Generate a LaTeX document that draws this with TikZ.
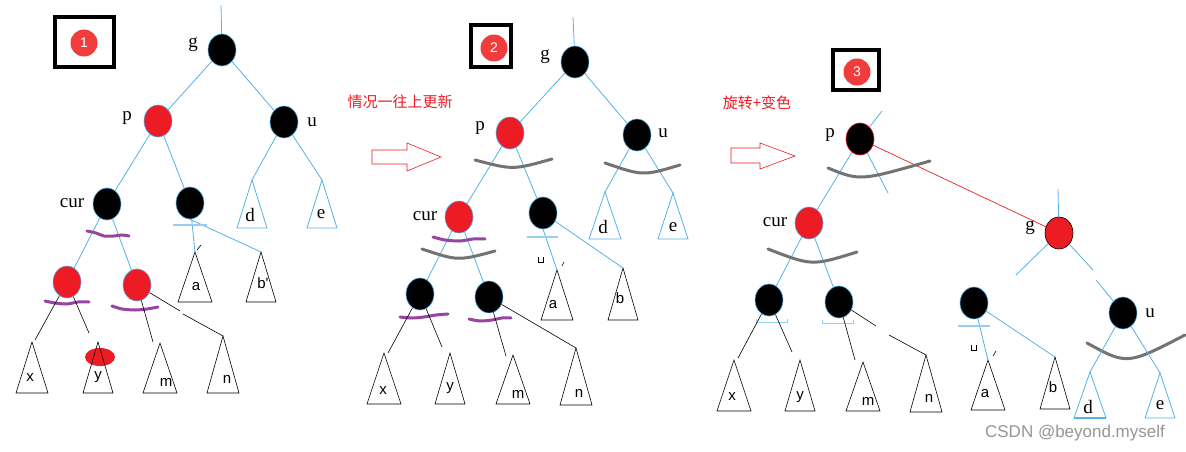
\documentclass[tikz,border=0pt]{standalone}
\usepackage{fontspec}
\setmainfont{Liberation Serif}
\newfontfamily\lsans{Liberation Sans}
\newfontfamily\cjk{Noto Sans CJK SC}
\usetikzlibrary{shapes.geometric}
\definecolor{nred}{RGB}{237,28,36}
\definecolor{lblue}{RGB}{86,178,230}
\definecolor{pale}{RGB}{150,205,240}
\definecolor{purp}{RGB}{150,70,160}
\definecolor{arcg}{RGB}{115,115,115}
\definecolor{badge}{RGB}{240,60,60}
\definecolor{wm}{RGB}{150,150,150}
\tikzset{
 rb/.style={ellipse, minimum width=28, minimum height=32, inner sep=0, draw=lblue, line width=0.6},
 rnode/.style={rb, fill=nred},
 bnode/.style={rb, fill=black},
 edge/.style={lblue, line width=0.8},
 thinb/.style={black, line width=0.6},
 serlab/.style={inner sep=0, font=\fontsize{19}{19}\selectfont},
 tlab/.style={inner sep=0, font=\lsans\fontsize{15}{15}\selectfont},
 bar/.style={pale, line width=2},
 brk/.style={pale, line width=1},
 wave/.style={purp, line width=3, line cap=round},
 garc/.style={arcg, line width=3, line cap=round},
 frame/.style={line width=4},
 badgec/.style={circle, fill=badge, minimum size=27, inner sep=0, text=white, font=\lsans\fontsize{14}{14}\selectfont},
 harrow/.style={nred, line width=0.6},
 cn/.style={text=nred, font=\cjk\fontsize{15}{15}\selectfont, inner sep=0},
}
% name, apex x, apex y, base y, half width, label x, label y, text
\newcommand\Tri[8]{%
 \draw[thinb] (#2,#3) coordinate (#1) -- (#2-#5,#4) -- (#2+#5,#4) -- cycle;
 \node[tlab] (#1l) at (#6,#7) {#8};}
\newcommand\BTri[8]{%
 \draw[edge] (#2,#3) coordinate (#1) -- (#2-#5,#4) -- (#2+#5,#4) -- cycle;
 \node[serlab] (#1l) at (#6,#7) {#8};}
\begin{document}
\begin{tikzpicture}[x=1pt,y=-1pt]
\useasboundingbox (0,0) rectangle (1186,452);
\fill[white] (0,0) rectangle (1186,452);

% ================= Panel 1 =================
\draw[frame] (55,17) rectangle (114,67);
\node[badgec] (bd1) at (84,43) {1};
\node[bnode] (g1) at (222,50) {};
\node[serlab] (g1l) at (193,45) {g};
\coordinate (g1t) at (221,5);
\draw[edge] (g1t) -- (g1);
\node[rnode] (p1) at (158,121) {};
\node[serlab] (p1l) at (127,118) {p};
\node[bnode] (u1) at (284,122) {};
\node[serlab] (u1l) at (312,122) {u};
\node[bnode] (c1) at (107,204) {};
\node[serlab] (c1l) at (72,203) {cur};
\node[bnode] (s1) at (190,203) {};
\BTri{d1}{252}{180}{228}{15}{250}{215}{d}
\BTri{e1}{322}{180}{228}{15}{321}{214}{e}
\draw[edge] (g1) -- (p1) (g1) -- (u1) (p1) -- (c1) (p1) -- (s1) (u1) -- (d1) (u1) -- (e1);
\node[rnode] (r1) at (67,282) {};
\node[rnode] (r2) at (137,285) {};
\draw[edge] (c1) -- (r1) (c1) -- (r2);
\draw[wave] plot[smooth] coordinates {(87,231) (96,233) (104,236) (114,236) (122,235) (129,236)};
\draw[wave] plot[smooth] coordinates {(45,301) (55,303) (67,304) (78,302) (89,302)};
\draw[wave] plot[smooth] coordinates {(112,306) (122,309) (135,310) (147,309) (158,307)};
\Tri{x1}{32}{342}{393}{16}{30}{378}{x}
\fill[nred] (100,357) ellipse [x radius=15, y radius=9];
\Tri{y1}{98}{342}{393}{15}{98}{377}{y}
\Tri{m1}{160}{343}{393}{17}{166}{382}{m}
\Tri{n1}{223}{336}{393}{16}{227}{379}{n}
\Tri{a1}{195}{252}{302}{17}{196}{287}{a}
\Tri{b1}{261}{252}{302}{15}{263}{283}{b'}
\draw[thinb] (r1) -- (35,340) (r1) -- (89,333) (r2) -- (153,342) (r2) -- (180,311);
\draw[thinb] (183,314) -- (n1);
\draw[edge] (s1) -- (a1) (s1.south) -- (b1);
\draw[bar] (173,225) -- (207,225);
\draw[thinb] (197,250) -- (201,245);

% hollow arrow 1
\draw[harrow] (372,150) -- (407,150) -- (407,143) -- (441,157) -- (407,171) -- (407,164) -- (372,164) -- cycle;
\node[cn] (t1) at (400,102) {情况一往上更新};

% ================= Panel 2 =================
\draw[frame] (471,25) rectangle (511,67);
\node[badgec] (bd2) at (494,48) {2};
\node[bnode] (g2) at (575,62) {};
\node[serlab] (g2l) at (545,57) {g};
\coordinate (g2t) at (573,17);
\draw[edge] (g2t) -- (g2);
\node[rnode] (p2) at (510,133) {};
\node[serlab] (p2l) at (480,128) {p};
\node[bnode] (u2) at (637,135) {};
\node[serlab] (u2l) at (663,133) {u};
\node[rnode] (c2) at (459,217) {};
\node[serlab] (c2l) at (425,216) {cur};
\node[bnode] (s2) at (543,213) {};
\BTri{d2}{605}{192}{239}{16}{603}{227}{d}
\BTri{e2}{673}{193}{239}{15}{673}{227}{e}
\draw[edge] (g2) -- (p2) (g2) -- (u2) (p2) -- (c2) (p2) -- (s2) (u2) -- (d2) (u2) -- (e2);
\draw[garc] (475,160) .. controls (513,170) .. (552,159);
\draw[garc] (605,163) .. controls (643,176) .. (680,165);
\node[bnode] (k1) at (420,294) {};
\node[bnode] (k2) at (489,297) {};
\draw[edge] (c2) -- (k1) (c2) -- (k2);
\draw[wave] plot[smooth] coordinates {(433,237) (445,240) (460,241) (473,239) (485,239)};
\draw[garc] (422,249) .. controls (458,261) .. (495,251);
\draw[wave] plot[smooth] coordinates {(400,317) (412,318) (424,317) (436,315) (448,314)};
\draw[wave] plot[smooth] coordinates {(469,319) (480,321) (492,320) (502,318) (511,318)};
\Tri{x2}{384}{353}{404}{17}{383}{391}{x}
\Tri{y2}{450}{353}{404}{15}{450}{388}{y}
\Tri{m2}{513}{355}{404}{17}{518}{394}{m}
\Tri{n2}{576}{348}{405}{16}{579}{393}{n}
\Tri{a2}{557}{270}{320}{16}{553}{305}{a}
\Tri{b2}{623}{268}{320}{15}{620}{298}{b}
\draw[thinb] (k1) -- (388,353) (k1) -- (442,347) (k2) -- (506,356) (k2) -- (n2);
\draw[edge] (s2.south) -- (a2) (s2) -- (b2);
\draw[bar] (527,237) -- (558,237);
\draw[black, line width=0.5] (538,257) -- (538,262) -- (543,262) -- (543,257);
\draw[thinb] (562,266) -- (564,262);

% hollow arrow 2
\draw[harrow] (731,148) -- (760,148) -- (760,143) -- (795,156) -- (760,169) -- (760,163) -- (731,163) -- cycle;
\node[cn] (t2) at (757,103) {旋转+变色};

% ================= Panel 3 =================
\draw[frame] (833,50) rectangle (879,90);
\node[badgec] (bd3) at (857,72) {3};
\node[bnode, draw=nred] (p3) at (860,139) {};
\node[serlab] (p3l) at (830,135) {p};
\coordinate (p3t) at (882,111);
\coordinate (p3r) at (888,193);
\draw[edge] (p3) -- (p3t);
\node[rnode] (c3) at (809,223) {};
\node[serlab] (c3l) at (775,222) {cur};
\node[rnode, draw=black] (g3) at (1059,233) {};
\node[serlab] (g3l) at (1030,228) {g};
\coordinate (g3t) at (1058,189);
\draw[edge] (p3) -- (c3) (p3) -- (p3r) (g3t) -- (g3);
\draw[nred, line width=0.7] (p3) -- (g3);
\draw[garc] (828,168) .. controls (860,181) .. (930,161);
\node[bnode] (q1) at (769,300) {};
\node[bnode] (q2) at (839,302) {};
\draw[edge] (c3) -- (q1) (c3) -- (q2);
\draw[garc] (768,249) .. controls (812,266) .. (857,252);
\draw[brk] (756,319) -- (756,322) -- (787,322) -- (787,319);
\draw[brk] (822,320) -- (822,323) -- (853,323) -- (853,320);
\Tri{x3}{734}{360}{411}{17}{732}{397}{x}
\Tri{y3}{800}{360}{411}{15}{800}{397}{y}
\Tri{m3}{863}{362}{411}{17}{868}{401}{m}
\Tri{n3}{926}{355}{412}{16}{929}{398}{n}
\draw[thinb] (q1) -- (738,358) (q1) -- (792,352) (q2) -- (855,360) (q2) -- (876,326);
\draw[thinb] (889,335) -- (n3);
\node[bnode] (o3) at (974,303) {};
\Tri{a3}{988}{360}{410}{17}{985}{394}{a}
\Tri{b3}{1055}{357}{409}{15}{1053}{387}{b}
\draw[edge] (o3) -- (a3) (o3) -- (b3);
\draw[bar] (958,326) -- (990,326);
\draw[black, line width=0.5] (971,345) -- (971,350) -- (976,350) -- (976,345);
\draw[thinb] (993,356) -- (996,351);
\node[bnode] (u3) at (1123,313) {};
\node[serlab] (u3l) at (1150,313) {u};
\draw[edge] (g3) -- (1016,275) (g3) -- (1093,270);
\draw[edge] (1096,280) -- (u3);
\draw[garc] (1087,343) .. controls (1127,365) .. (1185,335);
\BTri{d3}{1090}{372}{418}{16}{1088}{407}{d}
\BTri{e3}{1160}{373}{418}{15}{1160}{405}{e}
\draw[edge, line width=2] (1074,418) -- (1106,418);
\draw[edge] (u3) -- (d3) (u3) -- (e3);

\node[font=\lsans\fontsize{17}{17}\selectfont, text=wm, inner sep=0] (wm) at (1075,433) {CSDN @beyond.myself};
\end{tikzpicture}
\end{document}
